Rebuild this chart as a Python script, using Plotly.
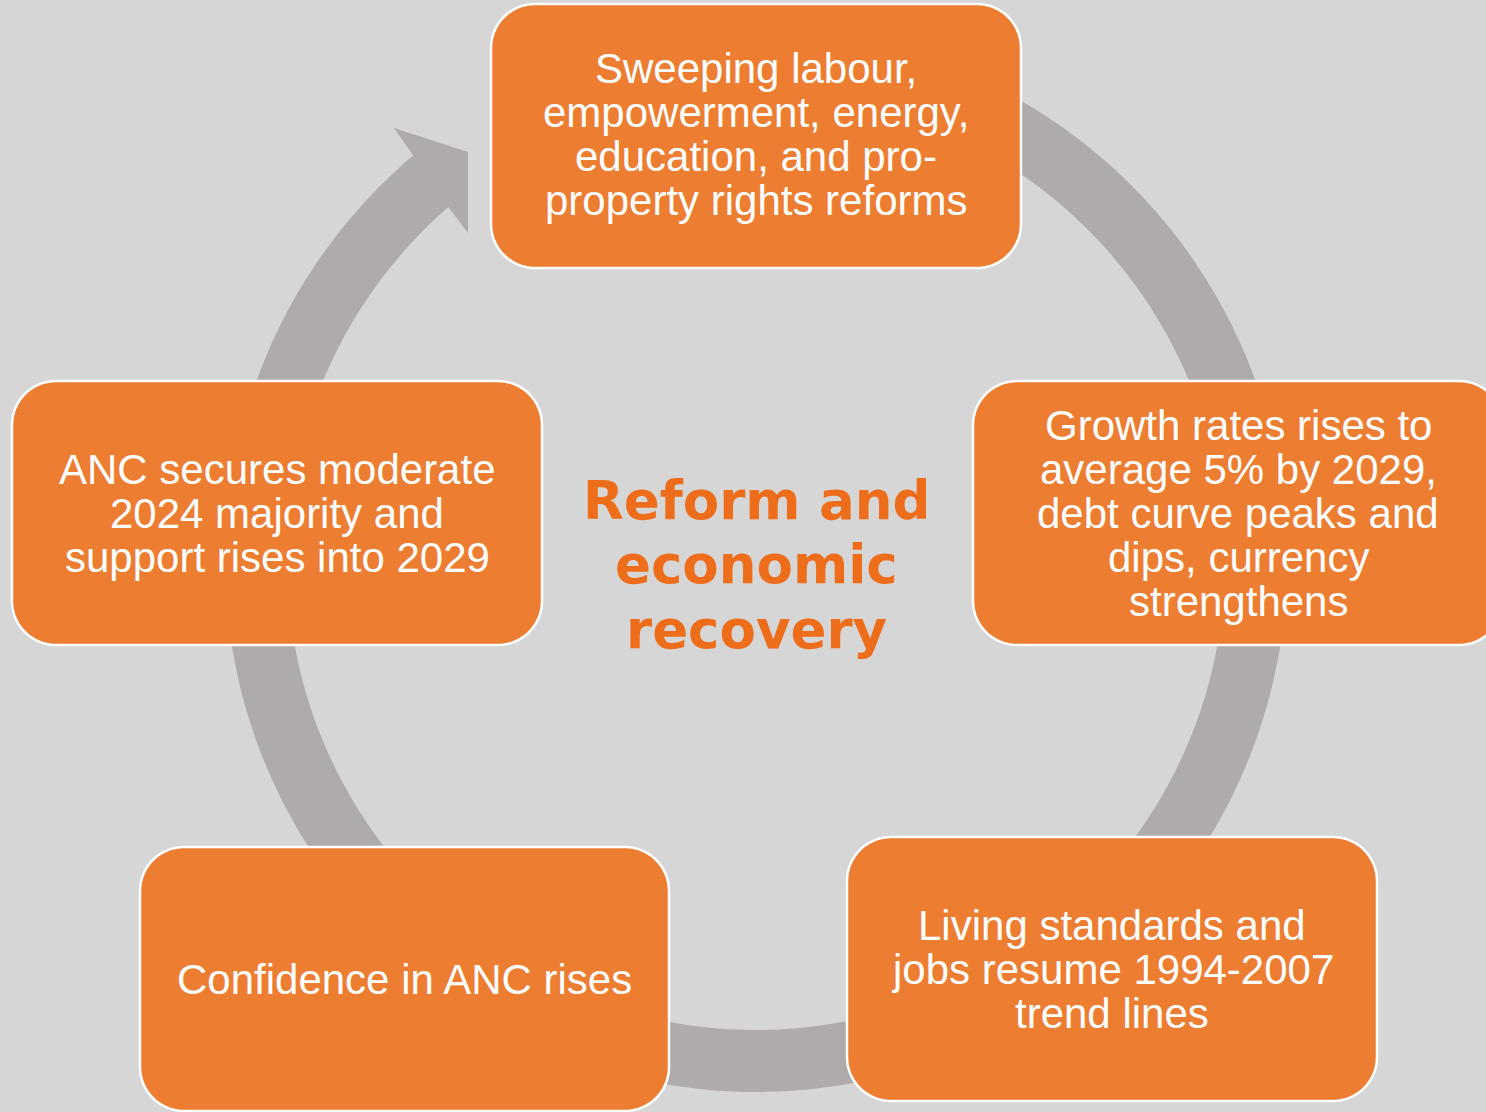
import numpy as np
import plotly.graph_objects as go

# ---------------- data (texts) ----------------
center_title = ["Reform and", "economic", "recovery"]

box_top = ["Sweeping labour,", "empowerment, energy,", "education, and pro-", "property rights reforms"]
box_right = ["Growth rates rises to", "average 5% by 2029,", "debt curve peaks and", "dips, currency", "strengthens"]
box_bottom_right = ["Living standards and", "jobs resume 1994-2007", "trend lines"]
box_bottom_left = ["Confidence in ANC rises"]
box_left = ["ANC secures moderate", "2024 majority and", "support rises into 2029"]

box_texts = [box_top, box_right, box_bottom_right, box_bottom_left, box_left]

# ---------------- layout geometry (pixels) ----------------
W, H = 1486, 1112
BG = "#D6D6D6"
ORANGE = "#ED7D31"
RING = "#AFABAA"
TITLE_COLOR = "#EE6D1A"

# box rectangles (x0, y0, x1, y1) and text-centre y
boxes = [
    (491, 4, 1021, 268),
    (973, 381, 1503, 645),
    (847, 837, 1377, 1101),
    (140, 847, 669, 1111),
    (12, 381, 542, 645),
]
text_center_y = [134, 513, 969, 979, 513]
RADIUS = 44
LINE_H = 44
FONT_SIZE = 42

CX, CY = 756, 561
R_OUT, R_IN = 531, 469


def rounded_rect_path(x0, y0, x1, y1, r):
    pts = []
    corners = [
        (x1 - r, y0 + r, -90, 0),
        (x1 - r, y1 - r, 0, 90),
        (x0 + r, y1 - r, 90, 180),
        (x0 + r, y0 + r, 180, 270),
    ]
    for cx, cy, a0, a1 in corners:
        for a in np.linspace(np.radians(a0), np.radians(a1), 16):
            pts.append((cx + r * np.cos(a), cy + r * np.sin(a)))
    return "M " + " L ".join(f"{x:.2f},{y:.2f}" for x, y in pts) + " Z"


def ring_path():
    # outer arc from top, clockwise (screen) to the arrowhead base
    a_out_end = np.degrees(np.arctan2(155 - CY, 413 - CX)) % 360
    a_in_end = np.degrees(np.arctan2(208 - CY, 449 - CX)) % 360
    pts = []
    for a in np.linspace(np.radians(-90), np.radians(a_out_end), 300):
        pts.append((CX + R_OUT * np.cos(a), CY + R_OUT * np.sin(a)))
    # arrowhead
    pts += [(394, 128), (468, 152), (468, 233)]
    for a in np.linspace(np.radians(a_in_end), np.radians(-90), 300):
        pts.append((CX + R_IN * np.cos(a), CY + R_IN * np.sin(a)))
    return "M " + " L ".join(f"{x:.2f},{y:.2f}" for x, y in pts) + " Z"


shapes = [
    dict(type="path", path=ring_path(), xref="x", yref="y",
         fillcolor=RING, line=dict(width=0), layer="above")
]
for (x0, y0, x1, y1) in boxes:
    shapes.append(dict(type="path", path=rounded_rect_path(x0, y0, x1, y1, RADIUS),
                       xref="x", yref="y", fillcolor=ORANGE,
                       line=dict(color="white", width=2.5), layer="above"))

annotations = []
for (x0, y0, x1, y1), lines, cy in zip(boxes, box_texts, text_center_y):
    cx = (x0 + x1) / 2
    n = len(lines)
    for i, t in enumerate(lines):
        yy = cy + (i - (n - 1) / 2) * LINE_H
        annotations.append(dict(x=cx, y=yy, xref="x", yref="y", text=t,
                                showarrow=False, xanchor="center", yanchor="middle",
                                font=dict(family="Liberation Sans, Arial, sans-serif",
                                          size=FONT_SIZE, color="white")))

title_y = [500, 564, 629]
for t, yy in zip(center_title, title_y):
    annotations.append(dict(x=CX, y=yy, xref="x", yref="y", text=f"<b>{t}</b>",
                            showarrow=False, xanchor="center", yanchor="middle",
                            font=dict(family="DejaVu Sans, Verdana, sans-serif",
                                      size=53, color=TITLE_COLOR)))

fig = go.Figure()
fig.add_trace(go.Scatter(x=[0, W], y=[0, H], mode="markers",
                         marker=dict(opacity=0), hoverinfo="skip", showlegend=False))
fig.update_layout(
    width=W, height=H,
    margin=dict(l=0, r=0, t=0, b=0),
    paper_bgcolor=BG, plot_bgcolor=BG,
    xaxis=dict(range=[0, W], visible=False, fixedrange=True),
    yaxis=dict(range=[H, 0], visible=False, fixedrange=True),
    shapes=shapes,
    annotations=annotations,
    showlegend=False,
)

fig.write_html("out.html", config={"displayModeBar": False},
               post_script="document.body.style.margin='0';document.body.style.overflow='hidden';")
